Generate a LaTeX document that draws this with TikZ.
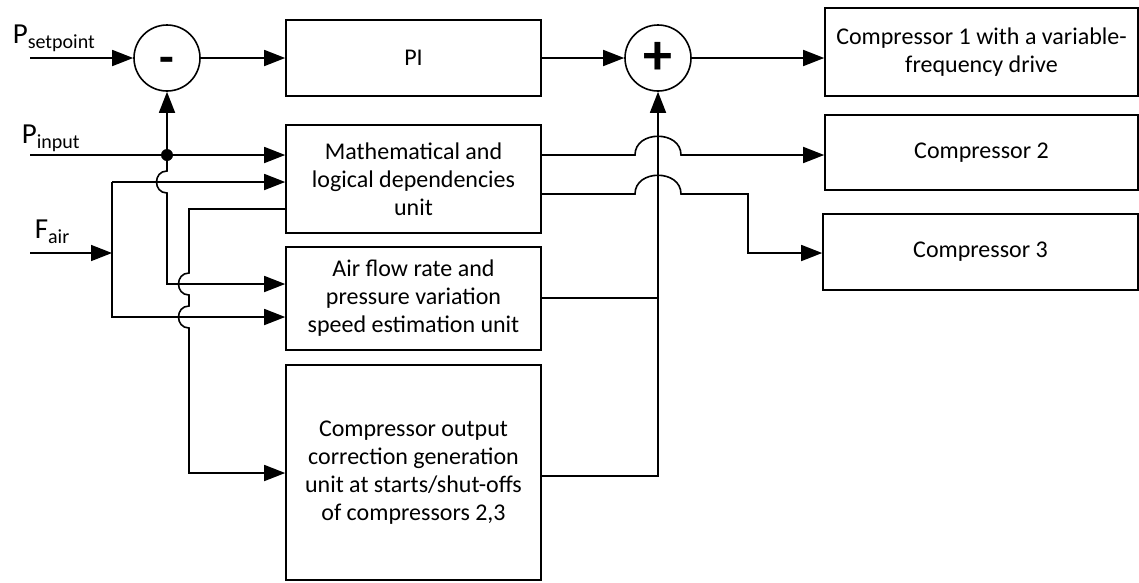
\documentclass[tikz,border=0pt]{standalone}
\usepackage{fontspec}
\setmainfont{Carlito}
\usetikzlibrary{arrows.meta,calc}
\begin{document}
\begin{tikzpicture}[x=1pt,y=-1pt, line width=1.6pt,
  blk/.style={draw, rectangle, inner sep=0pt, align=center, font=\fontsize{24}{28}\selectfont},
  sumc/.style={draw, circle, minimum size=66pt, inner sep=0pt, font=\bfseries},
  arr/.style={-{Triangle[length=21pt,width=16pt]}},
  lbl/.style={anchor=base west, inner sep=0pt}]
\useasboundingbox (0,0) rectangle (1139,582);

% blocks
\node[blk, minimum width=255pt, minimum height=76pt] (pi) at (413.5,58) {PI};
\node[blk, minimum width=255pt, minimum height=108pt] (math) at (413.5,179) {Mathematical and\\logical dependencies\\unit};
\node[blk, minimum width=255pt, minimum height=103pt] (air) at (413.5,298.5) {Air flow rate and\\pressure variation\\speed estimation unit};
\node[blk, minimum width=255pt, minimum height=215pt] (corr) at (413.5,472.5) {Compressor output\\correction generation\\unit at starts/shut-offs\\of compressors 2,3};
\node[blk, minimum width=313pt, minimum height=88pt] (c1) at (981.5,52) {Compressor 1 with a variable-\\frequency drive};
\node[blk, minimum width=313pt, minimum height=75pt] (c2) at (981.5,152.5) {Compressor 2};
\node[blk, minimum width=315pt, minimum height=76pt] (c3) at (980.5,252) {Compressor 3};

% summing junctions
\node[sumc, text height=0pt, text depth=0pt] (minus) at (167,58) {\fontsize{48}{48}\selectfont\raisebox{-15pt}{-}};
\node[sumc] (plus) at (658,58) {\fontsize{58}{58}\selectfont +};

% input labels
\node[lbl] (lps) at (12,43) {\fontsize{29}{30}\selectfont P\raisebox{-5pt}{\fontsize{20}{21}\selectfont setpoint}};
\node[lbl] (lpi) at (21,143) {\fontsize{29}{30}\selectfont P\raisebox{-5pt}{\fontsize{20}{21}\selectfont input}};
\node[lbl] (lfa) at (34,238) {\fontsize{29}{30}\selectfont F\raisebox{-5pt}{\fontsize{20}{21}\selectfont air}};

% coordinates
\coordinate (ps) at (30,58);
\coordinate (pin) at (30,155);
\coordinate (fa) at (30,253);
\coordinate (fx) at (112,253);
\coordinate (j) at (167,155);
\coordinate (ftop) at (112,182);
\coordinate (fbot) at (112,317);

% connectors
\draw[arr] (ps) -- (minus.west);
\draw[arr] (minus.east) -- (pi.west);
\draw[arr] (pi.east) -- (plus.west);
\draw[arr] (plus.east) -- (plus.east -| c1.west);
\draw[arr] (pin) -- (pin -| math.west);
\fill (j) circle (6pt);
\draw[arr] (j) -- (minus.south);
\draw[arr] (j) -- (167,171) .. controls +(-14,0) and +(-14,0) .. (167,193) -- (167,284) -- (air.west |- 0,284);

\draw[arr] (fa) -- (fx);
\draw[arr] (ftop) -- (ftop -| math.west);
\draw[arr] (ftop) -- (fbot) -- (fbot -| air.west);

\draw[arr] (math.west |- 0,209) -- (189,209) -- (189,273) .. controls +(-14,0) and +(-14,0) .. (189,295) -- (189,306) .. controls +(-14,0) and +(-14,0) .. (189,328) -- (189,473) -- (corr.west |- 0,473);

\draw[arr] (math.east |- 0,155) -- (635,155) .. controls +(0,-25) and +(0,-25) .. (681,155) -- (c2.west |- 0,155);
\draw[arr] (math.east |- 0,194) -- (635,194) .. controls +(0,-25) and +(0,-25) .. (681,194) -- (748,194) -- (748,253) -- (c3.west |- 0,253);
\draw (air.east |- 0,298) -- (658,298);
\draw[arr] (corr.east |- 0,476) -- (658,476) -- (plus.south);
\end{tikzpicture}
\end{document}
